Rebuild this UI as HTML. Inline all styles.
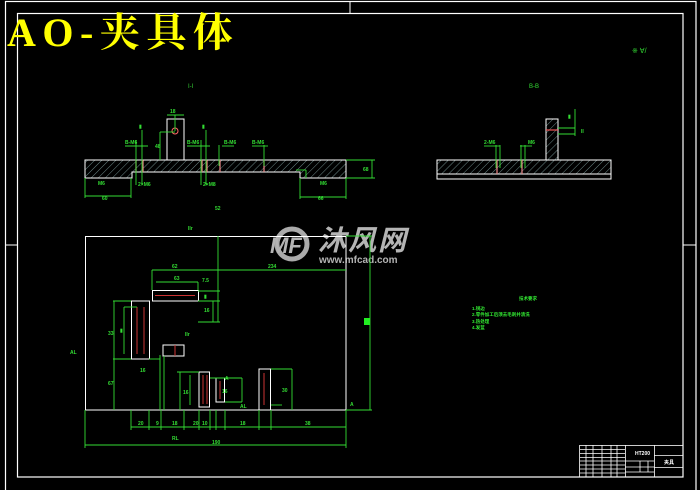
<!DOCTYPE html>
<html><head><meta charset="utf-8"><style>
html,body{margin:0;padding:0;background:#000;}
svg{display:block;}
</style></head><body>
<svg width="700" height="490" viewBox="0 0 700 490" xmlns="http://www.w3.org/2000/svg">
<defs>
<pattern id="h" width="5" height="5" patternUnits="userSpaceOnUse" patternTransform="rotate(45)">
<line x1="0" y1="0" x2="0" y2="5" stroke="#8aa" stroke-width="0.8"/>
</pattern>
</defs>
<rect width="700" height="490" fill="#000"/>
<g fill="none" stroke="#fff" stroke-width="1.2">
<rect x="5.5" y="1.5" width="690.5" height="495"/>
<rect x="17.5" y="13.5" width="665.5" height="463.5"/>
</g>
<g stroke="#fff" stroke-width="1">
<line x1="350" y1="1" x2="350" y2="13"/><line x1="5" y1="245" x2="17" y2="245"/><line x1="683" y1="245" x2="696" y2="245"/>
</g>
<text x="7" y="46" font-family="'Liberation Serif','Noto Serif CJK SC',serif" font-size="40" font-weight="bold" letter-spacing="6.5" fill="#ff0">AO-夹具体</text>

<text x="188" y="88" font-size="6" fill="#3c3" font-family="Liberation Sans,sans-serif">I-I</text>
<path d="M85 160H346V178H300V172H132V178H85Z" fill="url(#h)" stroke="#fff" stroke-width="1"/>
<rect x="167" y="119" width="17" height="41" fill="#000" stroke="#fff" stroke-width="1"/>
<circle cx="175" cy="131" r="3" fill="none" stroke="#f66" stroke-width="1"/>
<g stroke="#e88" stroke-width="1.2">
<line x1="136" y1="160" x2="136" y2="172"/><line x1="143" y1="160" x2="143" y2="172"/>
<line x1="202" y1="160" x2="202" y2="172"/><line x1="207" y1="160" x2="207" y2="172"/>
<line x1="220" y1="160" x2="220" y2="172"/><line x1="264" y1="160" x2="264" y2="172"/>
</g>
<g stroke="#3d3" stroke-width="0.9" fill="none">
<line x1="85" y1="178" x2="85" y2="198"/><line x1="131" y1="178" x2="131" y2="198"/><line x1="85" y1="196" x2="131" y2="196"/>
<line x1="300" y1="178" x2="300" y2="199"/><line x1="346" y1="178" x2="346" y2="199"/><line x1="300" y1="197" x2="346" y2="197"/>
<line x1="346" y1="160" x2="375" y2="160"/><line x1="346" y1="178" x2="375" y2="178"/><line x1="372" y1="160" x2="372" y2="178"/>
<line x1="160" y1="132" x2="175" y2="132"/><line x1="160" y1="132" x2="160" y2="160"/>
<line x1="167" y1="115" x2="184" y2="115"/><line x1="175" y1="115" x2="175" y2="131"/>
<line x1="125" y1="146" x2="148" y2="146"/><line x1="142" y1="130" x2="142" y2="185"/><line x1="136" y1="140" x2="136" y2="185"/>
<line x1="187" y1="146" x2="210" y2="146"/><line x1="206" y1="130" x2="206" y2="185"/><line x1="201" y1="140" x2="201" y2="185"/>
<line x1="222" y1="146" x2="234" y2="146"/><line x1="219" y1="145" x2="219" y2="166"/>
<line x1="252" y1="146" x2="268" y2="146"/><line x1="264" y1="145" x2="264" y2="166"/>
<line x1="296" y1="170" x2="306" y2="170"/><line x1="306" y1="170" x2="306" y2="178"/>
</g>
<g fill="#3d3" font-family="Liberation Sans,sans-serif" font-size="5" font-weight="bold">
<text x="125" y="144">B-M6</text><text x="187" y="144">B-M6</text><text x="224" y="144">B-M6</text><text x="252" y="144">B-M6</text>
<text x="102" y="200">60</text><text x="318" y="200">66</text><text x="138" y="186">2×M6</text><text x="203" y="186">2×M8</text>
<text x="98" y="185">M6</text><text x="320" y="185">M6</text><text x="170" y="113">18</text><text x="155" y="148">48</text>
<text x="139" y="128">▮</text><text x="202" y="128">▮</text><text x="363" y="171">68</text>
</g>

<text x="529" y="88" font-size="6" fill="#3d3" font-family="Liberation Sans,sans-serif">B-B</text>
<text x="632" y="53" font-size="7" fill="#3d3" font-family="Liberation Sans,sans-serif">※ ∀/</text>
<rect x="437" y="160" width="174" height="14" fill="url(#h)" stroke="#fff" stroke-width="1"/>
<rect x="437" y="174" width="174" height="5" fill="none" stroke="#fff" stroke-width="1"/>
<rect x="546" y="119" width="12" height="41" fill="url(#h)" stroke="#fff" stroke-width="1"/>
<line x1="546" y1="130" x2="558" y2="130" stroke="#e55" stroke-width="1.2"/>
<g stroke="#e88" stroke-width="1.2"><line x1="497" y1="160" x2="497" y2="174"/><line x1="522" y1="160" x2="522" y2="174"/></g>
<g stroke="#3d3" stroke-width="0.9" fill="none">
<line x1="484" y1="146" x2="500" y2="146"/><line x1="496" y1="145" x2="496" y2="168"/><line x1="500" y1="145" x2="500" y2="168"/>
<line x1="520" y1="146" x2="532" y2="146"/><line x1="521" y1="145" x2="521" y2="168"/><line x1="525" y1="145" x2="525" y2="168"/>
<line x1="558" y1="128" x2="575" y2="128"/><line x1="558" y1="134" x2="575" y2="134"/><line x1="575" y1="109" x2="575" y2="136"/>
</g>
<g fill="#3d3" font-family="Liberation Sans,sans-serif" font-size="5" font-weight="bold">
<text x="484" y="144">2-M6</text><text x="528" y="144">M6</text><text x="568" y="118">▮</text><text x="581" y="133">II</text>
</g>

<g fill="#b4b4b4" font-family="'Liberation Sans','Noto Sans CJK SC',sans-serif">
<circle cx="292" cy="244" r="15" fill="none" stroke="#aaa" stroke-width="5"/>
<text x="270" y="253" font-size="22" font-weight="bold" font-style="italic">MF</text>
<text x="318" y="250" font-size="28" font-weight="bold" font-style="italic" letter-spacing="2">沐风网</text>
<text x="319" y="263" font-size="10" font-weight="bold">www.mfcad.com</text>
</g>

<rect x="85.5" y="236.5" width="260.5" height="173.5" fill="none" stroke="#fff" stroke-width="1"/>
<g fill="none" stroke="#fff" stroke-width="1">
<rect x="152.5" y="290.5" width="46" height="10.5"/>
<rect x="131.5" y="301" width="18" height="58"/>
<rect x="163" y="345" width="21" height="11"/>
<rect x="199" y="372" width="10.5" height="35"/>
<rect x="216" y="378" width="8.5" height="24"/>
<rect x="259" y="369" width="11.5" height="41"/>
</g>
<g stroke="#c33" stroke-width="1">
<line x1="155" y1="295.5" x2="195" y2="295.5"/>
<line x1="137" y1="307" x2="137" y2="354"/><line x1="144" y1="307" x2="144" y2="354"/>
<line x1="175" y1="345" x2="175" y2="356"/>
<line x1="203" y1="375" x2="203" y2="404"/><line x1="207" y1="375" x2="207" y2="404"/>
<line x1="220" y1="381" x2="220" y2="399"/><line x1="264" y1="373" x2="264" y2="405"/>
</g>
<g stroke="#3d3" stroke-width="0.9" fill="none">
<line x1="85" y1="410" x2="85" y2="448"/><line x1="346" y1="410" x2="346" y2="448"/><line x1="85" y1="445" x2="346" y2="445"/>
<line x1="131" y1="410" x2="131" y2="430"/><line x1="131" y1="427" x2="346" y2="427"/>
<g><line x1="149" y1="410" x2="149" y2="430"/><line x1="161" y1="410" x2="161" y2="430"/><line x1="184" y1="410" x2="184" y2="430"/><line x1="199" y1="410" x2="199" y2="430"/><line x1="210" y1="410" x2="210" y2="430"/><line x1="216" y1="410" x2="216" y2="430"/><line x1="225" y1="410" x2="225" y2="430"/><line x1="259" y1="410" x2="259" y2="430"/><line x1="271" y1="410" x2="271" y2="430"/></g>
<line x1="346" y1="236" x2="372" y2="236"/><line x1="346" y1="410" x2="372" y2="410"/><line x1="370" y1="236" x2="370" y2="410"/>
<line x1="218" y1="236" x2="218" y2="322"/><line x1="152" y1="270" x2="346" y2="270"/><line x1="152" y1="270" x2="152" y2="290"/>
<line x1="156" y1="282" x2="198" y2="282"/><line x1="198" y1="282" x2="198" y2="290"/>
<line x1="198" y1="291" x2="220" y2="291"/><line x1="198" y1="301" x2="220" y2="301"/><line x1="198" y1="322" x2="220" y2="322"/><line x1="213" y1="301" x2="213" y2="322"/>
<line x1="113" y1="301" x2="131" y2="301"/><line x1="113" y1="359" x2="131" y2="359"/><line x1="114" y1="301" x2="114" y2="410"/>
<line x1="124" y1="307" x2="137" y2="307"/><line x1="124" y1="307" x2="124" y2="354"/>
<line x1="149" y1="359" x2="160" y2="359"/><line x1="160" y1="355" x2="160" y2="410"/><line x1="164" y1="356" x2="164" y2="410"/>
<line x1="177" y1="372" x2="199" y2="372"/><line x1="180" y1="372" x2="180" y2="410"/><line x1="190" y1="375" x2="190" y2="405"/>
<line x1="210" y1="378" x2="242" y2="378"/><line x1="242" y1="378" x2="242" y2="402"/><line x1="225" y1="402" x2="242" y2="402"/>
<line x1="271" y1="369" x2="292" y2="369"/><line x1="292" y1="369" x2="292" y2="410"/><line x1="271" y1="405" x2="282" y2="405"/>
</g>
<rect x="364" y="318" width="6" height="7" fill="#2e2"/>
<g fill="#3d3" font-family="Liberation Sans,sans-serif" font-size="5" font-weight="bold">
<text x="188" y="230">IIr</text><text x="70" y="354">AL</text><text x="350" y="406">A</text>
<text x="172" y="268">62</text><text x="268" y="268">234</text><text x="174" y="280">63</text><text x="202" y="282">7.5</text>
<text x="204" y="298">▮</text><text x="204" y="312">16</text><text x="185" y="336">IIr</text>
<text x="108" y="335">33</text><text x="120" y="332">▮</text><text x="108" y="385">67</text><text x="140" y="372">16</text>
<text x="183" y="394">16</text><text x="222" y="393">16</text><text x="225" y="380">A</text><text x="240" y="408">AL</text>
<text x="282" y="392">30</text><text x="138" y="425">20</text><text x="156" y="425">9</text><text x="172" y="425">18</text>
<text x="193" y="425">20</text><text x="202" y="425">10</text><text x="240" y="425">18</text><text x="305" y="425">38</text>
<text x="172" y="440">RL</text><text x="212" y="444">190</text><text x="215" y="210">52</text>
</g>

<g fill="#3e3" font-family="'Liberation Sans','Noto Sans CJK SC',sans-serif" font-size="4.5" font-weight="bold">
<text x="519" y="300">技术要求</text>
<text x="472" y="310">1.锐边</text>
<text x="472" y="316">2.零件加工后须去毛刺并清洗</text>
<text x="472" y="323">3.热处理</text>
<text x="472" y="329">4.发蓝</text>
</g>

<g stroke="#fff" stroke-width="0.8" fill="none">
<rect x="579.5" y="445.5" width="103.5" height="31.5"/>
<line x1="625.5" y1="445" x2="625.5" y2="477"/><line x1="654.5" y1="445" x2="654.5" y2="477"/>
<line x1="654" y1="455.5" x2="683" y2="455.5"/><line x1="654" y1="467.5" x2="683" y2="467.5"/>
<line x1="625" y1="461" x2="654" y2="461"/><line x1="625" y1="467" x2="654" y2="467"/><line x1="625" y1="472" x2="654" y2="472"/>
<line x1="640" y1="461" x2="640" y2="472"/><line x1="648" y1="461" x2="648" y2="472"/>
<line x1="580" y1="449.5" x2="625" y2="449.5"/><line x1="580" y1="453.5" x2="625" y2="453.5"/><line x1="580" y1="457.5" x2="625" y2="457.5"/>
<line x1="580" y1="461" x2="625" y2="461"/><line x1="580" y1="465" x2="625" y2="465"/><line x1="580" y1="469" x2="625" y2="469"/><line x1="580" y1="473" x2="625" y2="473"/>
<line x1="586" y1="445" x2="586" y2="477"/><line x1="593" y1="445" x2="593" y2="477"/><line x1="602" y1="445" x2="602" y2="477"/><line x1="611" y1="445" x2="611" y2="477"/><line x1="617" y1="445" x2="617" y2="477"/>
</g>
<g fill="#fff" font-family="'Liberation Sans','Noto Sans CJK SC',sans-serif" font-size="5" font-weight="bold">
<text x="635" y="455">HT200</text><text x="664" y="464">夹具</text>
</g>
</svg>
</body></html>
